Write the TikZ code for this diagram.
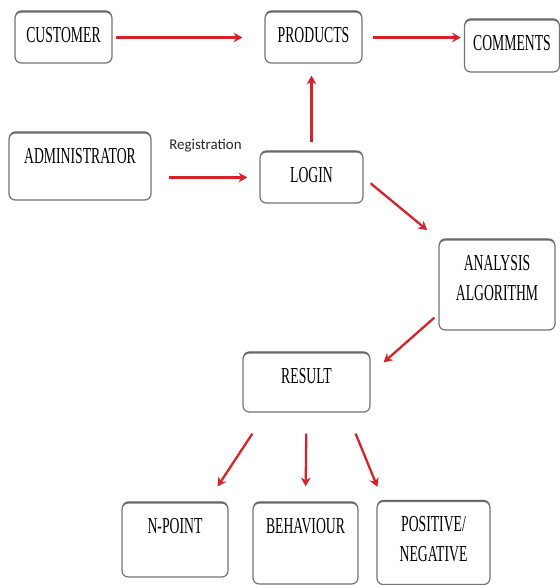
\documentclass[tikz,border=0pt]{standalone}
\usepackage{fontspec}
\newfontfamily\boxfont{Liberation Serif}[FakeStretch=0.6]
\newfontfamily\regfont{Carlito}
\usetikzlibrary{calc,arrows.meta,shadows}
\definecolor{arrowred}{RGB}{214,34,40}
\tikzset{
	box/.style={draw=black!55, line width=0.7pt, fill=white, rounded corners=3.5pt, inner sep=0pt, align=center, text height=0.6cm, text=black, font=\boxfont\fontsize{13}{17}\selectfont, drop shadow={shadow xshift=0pt, shadow yshift=0.9pt, fill=black!75, opacity=0.85}},
	arr/.style={draw=arrowred, line width=1.3pt, -{Stealth[length=5pt,width=5.5pt]}},
	regtext/.style={font=\regfont\fontsize{8.5}{10}\selectfont, text=black!85, inner sep=1pt}
}

\begin{document}
\begin{tikzpicture}[x=0.02cm,y=-0.02cm]
				%%%%% START %%%%%
				\useasboundingbox (0,0) rectangle (560,585);

				\node[box, minimum width=1.94cm, text depth=0.42cm] (customer) at (63.5,37.5) {CUSTOMER};
				\node[box, minimum width=1.94cm, text depth=0.42cm] (products) at (313.5,37.5) {PRODUCTS};
				\node[box, minimum width=1.9cm, text depth=0.44cm] (comments) at (512,46) {COMMENTS};

				\node[box, minimum width=2.84cm, text depth=0.74cm] (admin) at (80,166.5) {ADMINISTRATOR};
				\node[box, minimum width=2.06cm, text depth=0.42cm] (login) at (311.5,177.5) {LOGIN};
				% two lines: baseline is the last one
				\node[box, minimum width=2.32cm, text height=1.2cm, text depth=0.6cm] (analysis) at (497,285) {ANALYSIS\\ALGORITHM};
				\node[box, minimum width=2.54cm, text depth=0.58cm] (result) at (306.5,382.5) {RESULT};

				\node[box, minimum width=2.12cm, text depth=0.88cm] (npoint) at (175,540) {N-POINT};
				\node[box, minimum width=2.1cm, text depth=1.02cm] (behaviour) at (305.5,543.5) {BEHAVIOUR};
				\node[box, minimum width=2.26cm, text height=1.2cm, text depth=0.46cm] (posneg) at (433.5,543) {POSITIVE/\\NEGATIVE};

				\draw[arr, shorten <=0.06cm, shorten >=0.44cm] (customer.east) -- (customer.east -| products.west);
				\draw[arr, shorten <=0.2cm, shorten >=0.06cm] (products.east) -- (products.east -| comments.west);
				\draw[arr, shorten <=0.18cm, shorten >=0.24cm] (login.north) -- (login.north |- products.south);
				\draw[arr, shorten <=0.34cm, shorten >=0.24cm] (admin.east |- login.west) -- (login.west)
					node[regtext, midway, above=0.46cm] (reg) {Registration};
				\draw[arr, shorten <=0.18cm, shorten >=0.29cm] (login.east) -- (analysis.north west);
				\draw[arr] ($(analysis.south west)+(-4,-13)$) -- ($(result.north east)+(13,10)$);

				\draw[arr] ($(result.south west)+(10,21)$) -- ($(npoint.north east)+(-11,-16)$);
				\draw[arr, shorten <=0.42cm, shorten >=0.32cm] (result.south) -- (behaviour.north);
				\draw[arr] ($(result.south east)+(-15,21)$) -- ($(posneg.north west)+(1,-14)$);
				%%%%% START %%%%%
\end{tikzpicture}
\end{document}
